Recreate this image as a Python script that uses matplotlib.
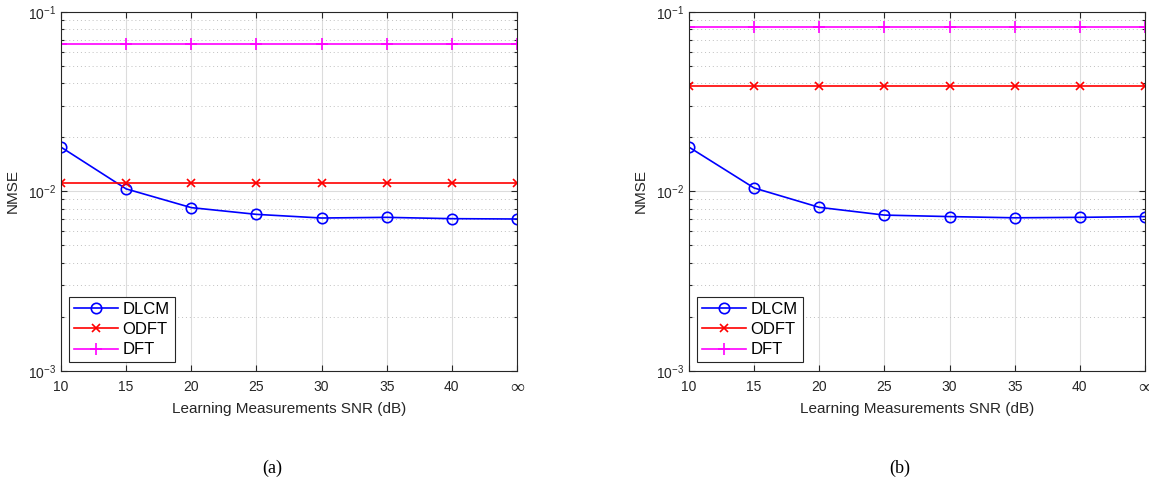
import numpy as np
import matplotlib
matplotlib.use("Agg")
import matplotlib.pyplot as plt
from matplotlib.ticker import LogLocator, NullFormatter

plt.rcParams['font.family'] = ['Liberation Sans', 'DejaVu Sans']
plt.rcParams['mathtext.fontset'] = 'custom'
plt.rcParams['mathtext.rm'] = 'Liberation Sans'
plt.rcParams['mathtext.it'] = 'Liberation Sans:italic'

snr_labels = ['10', '15', '20', '25', '30', '35', '40', '∞']

# panel (a)
dlcm_a = [0.0176, 0.0103, 0.0081, 0.00743, 0.00709, 0.00715, 0.00703, 0.00700]
odft_a = [0.01106] * 8
dft_a = [0.0658] * 8

# panel (b)
dlcm_b = [0.0176, 0.01042, 0.00813, 0.00736, 0.00722, 0.00711, 0.00715, 0.00722]
odft_b = [0.0384] * 8
dft_b = [0.0822] * 8

panels = [('(a)', dlcm_a, odft_a, dft_a), ('(b)', dlcm_b, odft_b, dft_b)]

W, H = 1149, 478
fig = plt.figure(figsize=(W / 100, H / 100), dpi=100)

ax_left = [61, 689]
ax_w, ax_top, ax_bot = 456, 11.7, 370.7
txt = '#262626'

for (tag, dlcm, odft, dft), x0 in zip(panels, ax_left):
    ax = fig.add_axes([x0 / W, 1 - ax_bot / H, ax_w / W, (ax_bot - ax_top) / H])
    x = np.arange(len(snr_labels))
    ax.plot(x, dlcm, '-o', color='#0000ff', lw=1.2, ms=7.5, mfc='none', mew=1.2,
            label='DLCM')
    ax.plot(x, odft, '-x', color='#ff0000', lw=1.2, ms=6, mew=1.2, label='ODFT')
    ax.plot(x, dft, '-+', color='#ff00ff', lw=1.2, ms=9, mew=1.2, label='DFT')

    ax.set_yscale('log')
    ax.set_ylim(1e-3, 1e-1)
    ax.set_xlim(0, len(snr_labels) - 1)
    ax.set_xticks(x)
    ax.set_xticklabels(snr_labels)
    ax.yaxis.set_minor_locator(LogLocator(base=10, subs=np.arange(2, 10), numticks=20))
    ax.yaxis.set_minor_formatter(NullFormatter())
    ax.set_yticks([1e-3, 1e-2, 1e-1])
    ax.set_yticklabels([r'$10^{-3}$', r'$10^{-2}$', r'$10^{-1}$'])

    ax.grid(True, which='major', color='#dcdcdc', lw=0.8)
    ax.grid(True, which='minor', axis='y', color='#c0c0c0', lw=0.7, ls=(0, (1, 3)))
    ax.set_axisbelow(True)
    ax.tick_params(which='both', direction='in', top=True, right=True,
                   colors=txt, labelsize=10, width=0.8)
    ax.tick_params(which='major', length=4)
    ax.tick_params(which='minor', length=2.5)
    ax.tick_params(axis='x', pad=7)
    # the infinity label reads better in a serif face
    inf_lbl = ax.get_xticklabels()[-1]
    inf_lbl.set_fontsize(14)
    inf_lbl.set_family('Liberation Serif')
    for s in ax.spines.values():
        s.set_color('#262626')
        s.set_linewidth(0.8)

    ax.set_xlabel('Learning Measurements SNR (dB)', fontsize=11, color=txt, labelpad=3)
    ax.set_ylabel('NMSE', fontsize=11, color=txt, labelpad=6)

    leg = ax.legend(loc='lower left', fontsize=12, handlelength=2.6,
                    borderpad=0.3, labelspacing=0.32, handletextpad=0.3,
                    borderaxespad=0.5, fancybox=False, framealpha=1)
    leg.get_frame().set_edgecolor('#262626')
    leg.get_frame().set_linewidth(0.8)

    fig.text((x0 + 211) / W, 1 - 468 / H, tag, ha='center', va='center',
             fontsize=13, family='Liberation Serif')

fig.savefig('out.png', dpi=100)
